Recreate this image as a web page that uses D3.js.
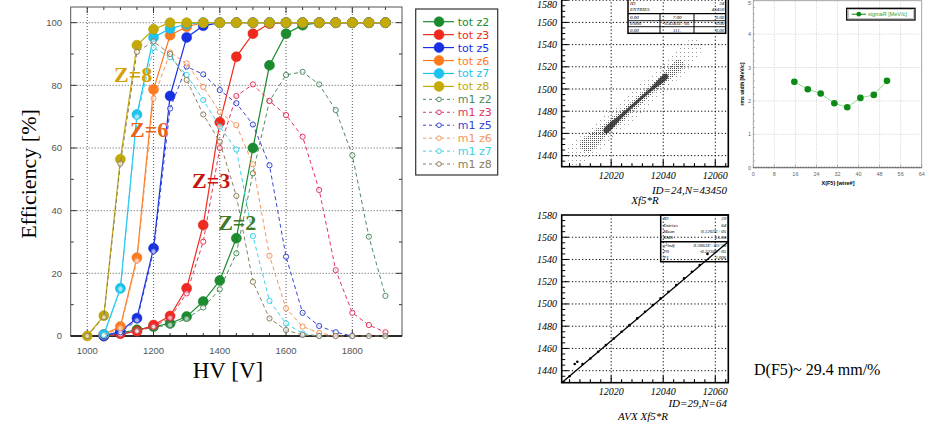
<!DOCTYPE html>
<html>
<head>
<meta charset="utf-8">
<script src="https://cdn.jsdelivr.net/npm/d3@7"></script>
<style>
  body { margin: 0; background: #fff; }
  svg { display: block; }
</style>
</head>
<body>
<svg id="chart" width="928" height="424"></svg>
<script>
// efficiency vs HV
const hvSteps = [1000, 1050, 1100, 1150, 1200, 1250, 1300, 1350, 1400, 1450, 1500, 1550, 1600, 1650, 1700, 1750, 1800, 1850, 1900]
const hvTicks = [1000, 1200, 1400, 1600, 1800]
const effTicks = [0, 20, 40, 60, 80, 100]

const totZ2 = [null, 0.3, 1, 2, 3, 4, 6.2, 11, 17.7, 31.2, 60, 86.4, 96.5, 99.2, 100, 100, 100, 100, 100]
const totZ3 = [null, 0, 0.7, 1.5, 3.5, 6.4, 15.2, 35.4, 68.2, 89.1, 96.5, 99.7, 100, 100, 100, 100, 100, 100, 100]
const totZ5 = [null, 0, 1.5, 5.7, 28, 76.6, 95.3, 99, 100, 100, 100, 100, 100, 100, 100, 100, 100, 100, 100]
const totZ6 = [null, 0.5, 3, 25, 78.7, 96, 98.7, 100, 100, 100, 100, 100, 100, 100, 100, 100, 100, 100, 100]
const totZ7 = [null, 0.5, 15.2, 70.7, 95.3, 98.1, 99.5, 100, 100, 100, 100, 100, 100, 100, 100, 100, 100, 100, 100]
const totZ8 = [0, 6.5, 56.4, 92.8, 97.9, 100, 100, 100, 100, 100, 100, 100, 100, 100, 100, 100, 100, 100, 100]

const m1Z2 = [null, 0, 0.8, 1.8, 2.8, 3.5, 5.5, 9.1, 14.9, 26.4, 51.9, 75, 83.3, 84.3, 80.3, 72.1, 57.7, 31.7, 12.8]
const m1Z3 = [null, 0, 0.5, 1.5, 3, 5.8, 13.6, 30.1, 60, 76.6, 80.3, 75, 70.5, 63.6, 46.6, 21, 7.4, 3.5, 1.2]
const m1Z5 = [null, 0, 1.2, 5, 27, 72.6, 86, 83.5, 78.5, 74.3, 67.5, 54.5, 25.3, 7.4, 3.2, 1.2, 0, null, null]
const m1Z6 = [null, 0.3, 2.5, 24, 75.8, 90.5, 87, 79.5, 71.5, 67.3, 54.8, 25.6, 8.8, 3, 1, 0, null, null, null]
const m1Z7 = [null, 0.3, 15, 70, 92, 89, 83.3, 75.3, 66.8, 59.5, 31.9, 11.2, 4, 0.8, 0, null, null, null, null]
const m1Z8 = [0, 6, 55, 90.7, 94, 90, 81.7, 70.7, 62, 44.7, 17.3, 5.6, 1.9, 0.3, 0, 0, 0, 0, 0]

const seriesNames = ['tot z2', 'tot z3', 'tot z5', 'tot z6', 'tot z7', 'tot z8', 'm1 z2', 'm1 z3', 'm1 z5', 'm1 z6', 'm1 z7', 'm1 z8']
const seriesValues = [totZ2, totZ3, totZ5, totZ6, totZ7, totZ8, m1Z2, m1Z3, m1Z5, m1Z6, m1Z7, m1Z8]
const seriesColors = ['#1a8c2e', '#f02a1c', '#1630e4', '#ff7a1c', '#1cc2f0', '#c4aa06',
  '#4f8a60', '#e2345e', '#3446d2', '#f5945a', '#3cd0ea', '#8c7e5e']

// scatter Xf5*R
const scatXTicks = [12020, 12040, 12060]
const scatYTicks = [1440, 1460, 1480, 1500, 1520, 1540, 1560, 1580]
const cloudOuter = [[12003, 1444], [12010, 1461], [12020, 1481], [12030, 1502], [12040, 1523], [12047, 1539], [12052, 1546],
  [12055, 1538], [12050, 1519], [12040, 1497], [12030, 1475], [12020, 1454], [12010, 1435], [12005, 1431]]
const cloudMid = [[12008, 1450], [12020, 1473], [12030, 1493], [12040, 1514], [12046, 1527],
  [12048, 1521], [12040, 1504], [12030, 1483], [12020, 1462], [12011, 1443]]
const cloudCore = [[12017, 1463], [12025, 1480], [12035, 1501], [12041, 1514],
  [12042, 1511], [12035, 1497], [12025, 1476], [12018, 1460]]
const topBoxRows = [['ID', '', '24'], ['ENTRIES', '', '43450']]
const topBoxTable = [['0.00', '7.00', '0.00'], ['0.000', '0.4345E+05', '0.00'], ['0.00', '111.', '0.00']]

// AVX Xf5*R
const avxX = [12004, 12006, 12007, 12009, 12012, 12015, 12018, 12021, 12024, 12027, 12030, 12033, 12036, 12039, 12042, 12045, 12048, 12051, 12054, 12057]
const avxY = [1435, 1446, 1448, 1446, 1451, 1457, 1463, 1469, 1475, 1481, 1487, 1493, 1499, 1505, 1511, 1517, 1523, 1529, 1535, 1545]
const fitX = [12001, 12065]
const fitY = [1429.2, 1556]
const botBoxRows = [['ID', '29'], ['Entries', '64'], ['Mean', '0.1203E+05'], ['RMS', '15.98']]
const fitBoxRows = [['\u03c7\u00b2/ndf', '0.3063E+03/ 58'], ['P0', '-0.2238E+05'], ['P1', '2.006']]

// width vs wire
const wireX = [15.6, 20.7, 25.6, 30.8, 35.7, 40.7, 45.8, 50.8]
const sigmaR = [2.57, 2.35, 2.22, 1.93, 1.81, 2.09, 2.18, 2.6]
const wireTicks = [0, 8, 16, 24, 32, 40, 48, 56, 64]
const sigmaTicks = [0, 1, 2, 3, 4, 5]

const svg = d3.select('#chart')
const serif = 'Liberation Serif, Times New Roman, serif'
const sans = 'Liberation Sans, Arial, sans-serif'

drawEfficiency()
drawScatter()
drawAvx()
drawWidth()

svg.append('text')
  .attr('x', 754).attr('y', 375)
  .attr('font-family', serif).attr('font-size', 16)
  .text('D(F5)~ 29.4 mm/%')

function drawEfficiency () {
  const x = d3.scaleLinear([950, 1950], [70.7, 402])
  const y = d3.scaleLinear([0, 105], [336, 7])
  const g = svg.append('g')
  const [x0, x1] = x.range()
  const [y0, y1] = y.range()

  g.selectAll('.gx').data(hvTicks).join('line')
    .attr('x1', d => x(d)).attr('x2', d => x(d)).attr('y1', y0).attr('y2', y1)
    .attr('stroke', '#444').attr('stroke-width', 0.9).attr('stroke-dasharray', '1,2')
  g.selectAll('.gy').data(effTicks.slice(1)).join('line')
    .attr('x1', x0).attr('x2', x1).attr('y1', d => y(d)).attr('y2', d => y(d))
    .attr('stroke', '#444').attr('stroke-width', 0.9).attr('stroke-dasharray', '1,2')

  // inward ticks on all four sides
  const tx = x.ticks(20).filter(d => d > 950 && d < 1950)
  const ty = y.ticks(10).filter(d => d > 0 && d < 105)
  const tickLen = (major) => major ? 6 : 3
  tx.forEach(d => {
    const len = tickLen(d % 200 === 0)
    g.append('line').attr('x1', x(d)).attr('x2', x(d)).attr('y1', y0).attr('y2', y0 - len).attr('stroke', '#333')
    g.append('line').attr('x1', x(d)).attr('x2', x(d)).attr('y1', y1).attr('y2', y1 + len).attr('stroke', '#333')
  })
  ty.forEach(d => {
    const len = tickLen(d % 20 === 0)
    g.append('line').attr('x1', x0).attr('x2', x0 + len).attr('y1', y(d)).attr('y2', y(d)).attr('stroke', '#333')
    g.append('line').attr('x1', x1).attr('x2', x1 - len).attr('y1', y(d)).attr('y2', y(d)).attr('stroke', '#333')
  })

  g.append('rect')
    .attr('x', x0).attr('y', y1).attr('width', x1 - x0).attr('height', y0 - y1)
    .attr('fill', 'none').attr('stroke', '#555').attr('stroke-width', 1)
  g.append('line').attr('x1', x0).attr('x2', x1).attr('y1', y0).attr('y2', y0)
    .attr('stroke', '#000').attr('stroke-width', 1.6)

  g.selectAll('.lx').data(hvTicks).join('text')
    .attr('x', d => x(d)).attr('y', 354)
    .attr('text-anchor', 'middle').attr('font-family', sans).attr('font-size', 9.5).attr('fill', '#555')
    .text(d => d)
  g.selectAll('.ly').data(effTicks).join('text')
    .attr('x', 62).attr('y', d => y(d) + 3.4)
    .attr('text-anchor', 'end').attr('font-family', sans).attr('font-size', 9.5).attr('fill', '#555')
    .text(d => d)

  const line = d3.line().defined(d => d[1] != null).x(d => x(d[0])).y(d => y(d[1]))
  seriesValues.forEach((values, i) => {
    const pts = hvSteps.map((h, j) => [h, values[j]]).filter(d => d[1] != null)
    const color = seriesColors[i]
    const tot = i < 6
    g.append('path').datum(pts)
      .attr('d', line).attr('fill', 'none').attr('stroke', color)
      .attr('stroke-width', tot ? 1.2 : 1).attr('stroke-dasharray', tot ? null : '4,3')
    g.selectAll(null).data(pts).join('circle')
      .attr('cx', d => x(d[0])).attr('cy', d => y(d[1]))
      .attr('r', tot ? 5 : 2.6)
      .attr('fill', tot ? color : '#fff')
      .attr('fill-opacity', tot ? 1 : 0.6)
      .attr('stroke', tot ? d3.color(color).darker(0.3) : color)
      .attr('stroke-width', tot ? 0.5 : 1)
  })

  const zText = (txt, hv, eff, color) => g.append('text')
    .attr('x', x(hv)).attr('y', y(eff))
    .attr('font-family', serif).attr('font-weight', 'bold').attr('font-size', 22)
    .attr('fill', color).text(txt)
  zText('Z=8', 1081, 81.1, '#d2a206')
  zText('Z=6', 1129, 63.5, '#e8641a')
  zText('Z=3', 1316, 47.2, '#c41610')
  zText('Z=2', 1395, 33.8, '#3f7a26')

  svg.append('text')
    .attr('transform', 'translate(36,174) rotate(-90)')
    .attr('text-anchor', 'middle').attr('font-family', serif).attr('font-size', 22)
    .text('Efficiency [%]')
  svg.append('text')
    .attr('x', 228).attr('y', 378)
    .attr('text-anchor', 'middle').attr('font-family', serif).attr('font-size', 23)
    .text('HV [V]')

  // legend
  const lg = svg.append('g')
  lg.append('rect')
    .attr('x', 415.7).attr('y', 9).attr('width', 82).attr('height', 166)
    .attr('fill', '#fff').attr('stroke', '#333').attr('stroke-width', 1.2)
  seriesNames.forEach((name, i) => {
    const ly = 21.7 + i * 12.94
    const color = seriesColors[i]
    const tot = i < 6
    lg.append('line')
      .attr('x1', 423).attr('x2', 454).attr('y1', ly).attr('y2', ly)
      .attr('stroke', color).attr('stroke-width', tot ? 1.2 : 1).attr('stroke-dasharray', tot ? null : '3,3')
    lg.append('circle')
      .attr('cx', 439).attr('cy', ly).attr('r', tot ? 5 : 2.3)
      .attr('fill', tot ? color : '#fff').attr('stroke', color).attr('stroke-width', tot ? 0.5 : 1)
    lg.append('text')
      .attr('x', 457.7).attr('y', ly + 4)
      .attr('font-family', 'DejaVu Sans, sans-serif').attr('font-size', 11)
      .attr('fill', color).text(name)
  })
}

function scatterAxes (g, x, y, yTicks) {
  const [x0, x1] = x.range()
  const [y0, y1] = y.range()
  g.selectAll(null).data(scatXTicks).join('line')
    .attr('x1', d => x(d)).attr('x2', d => x(d)).attr('y1', y0).attr('y2', y1)
    .attr('stroke', '#000').attr('stroke-width', 1).attr('stroke-dasharray', '1.2,2.2')
  g.selectAll(null).data(yTicks.filter(d => y(d) < y0 - 1 && y(d) > y1 + 1)).join('line')
    .attr('x1', x0).attr('x2', x1).attr('y1', d => y(d)).attr('y2', d => y(d))
    .attr('stroke', '#000').attr('stroke-width', 1).attr('stroke-dasharray', '1.2,2.2')

  d3.range(12004, 12065, 4).forEach(d => {
    const len = d % 20 === 0 ? 7 : 3.5
    g.append('line').attr('x1', x(d)).attr('x2', x(d)).attr('y1', y0).attr('y2', y0 - len)
      .attr('stroke', '#000').attr('stroke-width', 1.1)
  })
  d3.range(1430, 1583, 5).filter(d => y(d) > y1 && y(d) < y0).forEach(d => {
    const len = d % 20 === 0 ? 7 : 3.5
    g.append('line').attr('x1', x0).attr('x2', x0 + len).attr('y1', y(d)).attr('y2', y(d))
      .attr('stroke', '#000').attr('stroke-width', 1)
  })

  g.selectAll(null).data(scatXTicks).join('text')
    .attr('x', d => x(d)).attr('y', y0 + 12)
    .attr('text-anchor', 'middle').attr('font-family', serif).attr('font-style', 'italic').attr('font-size', 10)
    .text(d => d)
  // the top label sits on the page edge; keep it readable
  g.selectAll(null).data(yTicks).join('text')
    .attr('x', 557).attr('y', d => Math.max(y(d) + 3.5, 8))
    .attr('text-anchor', 'end').attr('font-family', serif).attr('font-style', 'italic').attr('font-size', 10)
    .text(d => d)
}

function scatterFrame (g, x, y) {
  const [x0, x1] = x.range()
  const [y0, y1] = y.range()
  g.append('rect')
    .attr('x', x0).attr('y', y1).attr('width', x1 - x0).attr('height', y0 - y1)
    .attr('fill', 'none').attr('stroke', '#000').attr('stroke-width', 1.6)
}

function statText (g, txt, tx, ty, anchor) {
  g.append('text')
    .attr('x', tx).attr('y', ty).attr('text-anchor', anchor)
    .attr('font-family', serif).attr('font-style', 'italic').attr('font-size', 5)
    .text(txt)
}

function drawScatter () {
  const x = d3.scaleLinear([12001, 12065], [561.7, 728.3])
  const y = d3.scaleLinear([1430, 1582], [166.7, -2])
  const g = svg.append('g')

  const defs = svg.append('defs')
  const dots = (id, size, color) => {
    const p = defs.append('pattern').attr('id', id)
      .attr('width', size).attr('height', size).attr('patternUnits', 'userSpaceOnUse')
    p.append('rect').attr('width', 1).attr('height', 1).attr('fill', color)
  }
  dots('dotsLight', 4, '#9a9a9a')
  dots('dotsMid', 2, '#555')

  scatterAxes(g, x, y, scatYTicks)

  const area = d3.line().x(d => x(d[0])).y(d => y(d[1])).curve(d3.curveCatmullRomClosed)
  g.append('path').attr('d', area(cloudOuter)).attr('fill', 'url(#dotsLight)')
  g.append('path').attr('d', area(cloudMid)).attr('fill', 'url(#dotsMid)')
  g.append('path').attr('d', area(cloudCore)).attr('fill', '#222').attr('fill-opacity', 0.8)

  scatterFrame(g, x, y)

  // stat box
  const bx0 = 628
  const bx1 = 725.7
  const rowY = [3.8, 9.8]
  const tableY = [13.7, 20.7, 26.7, 33.3]
  g.append('rect').attr('x', bx0).attr('y', -1).attr('width', bx1 - bx0).attr('height', tableY[3] + 1)
    .attr('fill', 'none').attr('stroke', '#000').attr('stroke-width', 1.5)
  tableY.slice(0, 3).forEach((ly, i) => {
    g.append('line').attr('x1', bx0).attr('x2', bx1).attr('y1', ly).attr('y2', ly)
      .attr('stroke', '#000').attr('stroke-width', i === 0 ? 1.3 : 0.9)
  })
  ;[660, 694].forEach(lx => {
    g.append('line').attr('x1', lx).attr('x2', lx).attr('y1', tableY[0]).attr('y2', tableY[3])
      .attr('stroke', '#000').attr('stroke-width', 1)
  })
  topBoxRows.forEach((r, i) => {
    statText(g, r[0], bx0 + 2, rowY[i] + 1.5, 'start')
    statText(g, r[2], bx1 - 1.5, rowY[i] + 1.5, 'end')
  })
  topBoxTable.forEach((r, i) => {
    const ty = (tableY[i] + tableY[i + 1]) / 2 + 1.7
    statText(g, r[0], bx0 + 2, ty, 'start')
    statText(g, r[1], 677, ty, 'middle')
    statText(g, r[2], bx1 - 1.5, ty, 'end')
  })

  g.append('text')
    .attr('x', 727).attr('y', 194)
    .attr('text-anchor', 'end').attr('font-family', serif).attr('font-style', 'italic').attr('font-size', 11)
    .text('ID=24,N=43450')
  g.append('text')
    .attr('x', 645).attr('y', 204)
    .attr('text-anchor', 'middle').attr('font-family', serif).attr('font-style', 'italic').attr('font-size', 11)
    .text('Xf5*R')
}

function drawAvx () {
  const x = d3.scaleLinear([12001, 12065], [561.7, 728.3])
  const y = d3.scaleLinear([1429.2, 1580], [382.7, 215])
  const g = svg.append('g')

  scatterAxes(g, x, y, scatYTicks)

  g.append('line')
    .attr('x1', x(fitX[0])).attr('y1', y(fitY[0])).attr('x2', x(fitX[1])).attr('y2', y(fitY[1]))
    .attr('stroke', '#000').attr('stroke-width', 1.3)
  g.selectAll(null).data(avxX).join('circle')
    .attr('cx', d => x(d)).attr('cy', (d, i) => y(avxY[i]))
    .attr('r', 1.3).attr('fill', '#000')

  scatterFrame(g, x, y)

  const bx0 = 660.7
  const bx1 = 728.3
  const rowY = [218.3, 224.8, 231.3, 237.6]
  const fitRowY = [245, 250.9, 256.8]
  g.append('rect').attr('x', bx0).attr('y', 215).attr('width', bx1 - bx0).attr('height', 46.7)
    .attr('fill', 'none').attr('stroke', '#000').attr('stroke-width', 1.5)
  g.append('line').attr('x1', bx0).attr('x2', bx1).attr('y1', 241.7).attr('y2', 241.7)
    .attr('stroke', '#000').attr('stroke-width', 1.6)
  botBoxRows.forEach((r, i) => {
    statText(g, r[0], bx0 + 2.5, rowY[i] + 1.7, 'start')
    statText(g, r[1], bx1 - 2, rowY[i] + 1.7, 'end')
  })
  fitBoxRows.forEach((r, i) => {
    statText(g, r[0], bx0 + 2.5, fitRowY[i] + 1.7, 'start')
    statText(g, r[1], bx1 - 2, fitRowY[i] + 1.7, 'end')
  })

  g.append('text')
    .attr('x', 727).attr('y', 406.5)
    .attr('text-anchor', 'end').attr('font-family', serif).attr('font-style', 'italic').attr('font-size', 11)
    .text('ID=29,N=64')
  g.append('text')
    .attr('x', 643).attr('y', 420)
    .attr('text-anchor', 'middle').attr('font-family', serif).attr('font-style', 'italic').attr('font-size', 11)
    .text('AVX Xf5*R')
}

function drawWidth () {
  const x = d3.scaleLinear([0, 64], [753.3, 921.7])
  const y = d3.scaleLinear([0, 5], [167.7, 0.7])
  const g = svg.append('g')
  const [x0, x1] = x.range()
  const [y0, y1] = y.range()

  g.selectAll(null).data(wireTicks).join('line')
    .attr('x1', d => x(d)).attr('x2', d => x(d)).attr('y1', y0).attr('y2', y1)
    .attr('stroke', '#bbb').attr('stroke-width', 0.7).attr('stroke-dasharray', '1,1.5')
  g.selectAll(null).data(sigmaTicks).join('line')
    .attr('x1', x0).attr('x2', x1).attr('y1', d => y(d)).attr('y2', d => y(d))
    .attr('stroke', '#bbb').attr('stroke-width', 0.7).attr('stroke-dasharray', '1,1.5')

  x.ticks(64).forEach(d => {
    g.append('line').attr('x1', x(d)).attr('x2', x(d)).attr('y1', y0).attr('y2', y0 - (d % 8 === 0 ? 3 : 1.5))
      .attr('stroke', '#777').attr('stroke-width', 0.6)
  })
  y.ticks(25).forEach(d => {
    g.append('line').attr('x1', x0).attr('x2', x0 + 1.5).attr('y1', y(d)).attr('y2', y(d))
      .attr('stroke', '#777').attr('stroke-width', 0.6)
  })

  g.append('rect')
    .attr('x', x0).attr('y', y1).attr('width', x1 - x0).attr('height', y0 - y1)
    .attr('fill', 'none').attr('stroke', '#999').attr('stroke-width', 0.8)
  g.append('line').attr('x1', x0).attr('x2', x1).attr('y1', y0).attr('y2', y0)
    .attr('stroke', '#666').attr('stroke-width', 0.9)

  g.selectAll(null).data(wireTicks).join('text')
    .attr('x', d => x(d)).attr('y', 176)
    .attr('text-anchor', 'middle').attr('font-family', sans).attr('font-size', 5.5).attr('fill', '#666')
    .text(d => d)
  g.selectAll(null).data(sigmaTicks).join('text')
    .attr('x', 751).attr('y', d => Math.max(y(d) + 2, 5))
    .attr('text-anchor', 'end').attr('font-family', sans).attr('font-size', 5.5).attr('fill', '#666')
    .text(d => d)

  const pts = wireX.map((w, i) => [w, sigmaR[i]])
  g.append('path').datum(pts)
    .attr('d', d3.line().x(d => x(d[0])).y(d => y(d[1])))
    .attr('fill', 'none').attr('stroke', '#9ad69a').attr('stroke-width', 1)
  g.selectAll(null).data(pts).join('circle')
    .attr('cx', d => x(d[0])).attr('cy', d => y(d[1]))
    .attr('r', 3.3).attr('fill', '#0c8a14')

  // legend
  g.append('rect').attr('x', 846.7).attr('y', 8.3).attr('width', 68.3).attr('height', 11.7)
    .attr('fill', '#fff').attr('stroke', '#000').attr('stroke-width', 1.3)
  g.append('rect').attr('x', 848.2).attr('y', 9.8).attr('width', 65.3).attr('height', 8.7)
    .attr('fill', 'none').attr('stroke', '#666').attr('stroke-width', 0.4)
  g.append('line').attr('x1', 851.7).attr('x2', 866).attr('y1', 14.2).attr('y2', 14.2)
    .attr('stroke', '#0c8a14').attr('stroke-width', 1)
  g.append('circle').attr('cx', 858.8).attr('cy', 14.2).attr('r', 2.4).attr('fill', '#0c8a14')
  g.append('text').attr('x', 868).attr('y', 16)
    .attr('font-family', sans).attr('font-size', 5.5).attr('fill', '#33a033')
    .text('sigmaR [MeV/c]')

  g.append('text')
    .attr('x', 838).attr('y', 185)
    .attr('text-anchor', 'middle').attr('font-family', sans).attr('font-weight', 'bold').attr('font-size', 5.5)
    .text('X(F5) [wire#]')
  g.append('text')
    .attr('transform', 'translate(744,84) rotate(-90)')
    .attr('text-anchor', 'middle').attr('font-family', sans).attr('font-weight', 'bold').attr('font-size', 5)
    .text('rms width [MeV/c]')
}
</script>
</body>
</html>
